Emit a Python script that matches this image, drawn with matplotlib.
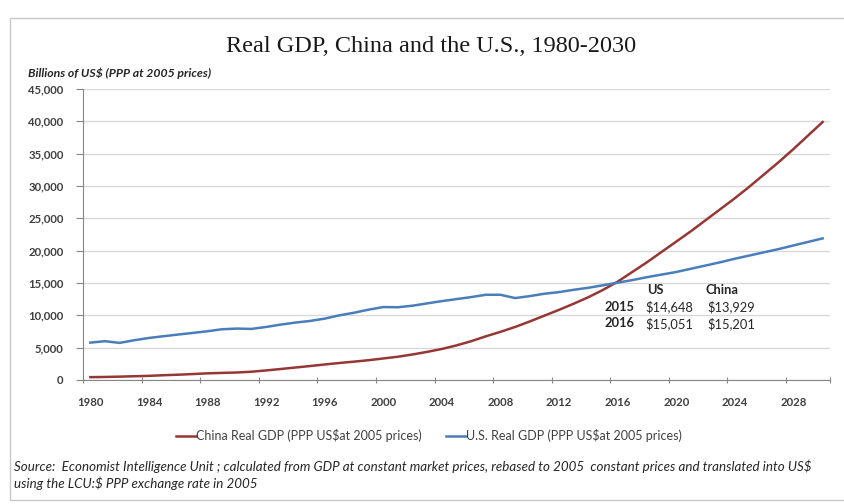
import matplotlib
matplotlib.use("Agg")
import matplotlib.pyplot as plt
from matplotlib.patches import Rectangle
from matplotlib.ticker import FuncFormatter, FixedLocator


# 1. Datos (miles de millones de US$, PPP a precios de 2005)
years = list(range(1980, 2031))

china_gdp = [
    440, 470, 520, 580, 640, 740, 820, 920, 1030, 1100,
    1160, 1280, 1480, 1700, 1930, 2160, 2400, 2630, 2840, 3060,
    3330, 3600, 3950, 4350, 4800, 5350, 6000, 6750, 7450, 8200,
    9050, 9950, 10850, 11800, 12800, 13929, 15201, 16700, 18200, 19800,
    21400, 23000, 24700, 26400, 28100, 29900, 31800, 33700, 35700, 37800,
    39900,
]

us_gdp = [
    5780, 6000, 5740, 6150, 6500, 6770, 7030, 7280, 7540, 7850,
    7950, 7900, 8200, 8570, 8880, 9130, 9490, 10000, 10400, 10880,
    11280, 11250, 11490, 11850, 12200, 12510, 12820, 13180, 13180, 12670,
    12970, 13340, 13590, 13950, 14260, 14648, 15051, 15450, 15900, 16300,
    16700, 17200, 17700, 18200, 18750, 19250, 19750, 20250, 20800, 21350,
    21900,
]

table_years = ["2015", "2016"]
table_us = ["$14,648", "$15,051"]
table_china = ["$13,929", "$15,201"]

label_china = "China Real GDP (PPP US$at 2005 prices)"
label_us = "U.S. Real GDP (PPP US$at 2005 prices)"

RED = "#953735"
BLUE = "#4A7EBB"
NARROW = ["Lato", "DejaVu Sans"]

# 2. Figura
fig = plt.figure(figsize=(8.44, 5.04), dpi=100)
ax = fig.add_axes([83 / 844, 1 - 380 / 504, (830 - 83) / 844, (380 - 89) / 504])

# marco exterior
fig.patches.append(Rectangle((10 / 844, 4 / 504), 1.0, 482 / 504, transform=fig.transFigure,
                             fill=False, edgecolor="#c8c8c8", linewidth=1.0))

ax.plot(years, china_gdp, color=RED, lw=1.8, label=label_china)
ax.plot(years, us_gdp, color=BLUE, lw=1.8, label=label_us)

ax.set_xlim(years[0] - 0.5, years[-1] + 0.5)
ax.set_ylim(0, 45000)
ax.set_yticks(range(0, 45001, 5000))
ax.yaxis.set_major_formatter(FuncFormatter(lambda v, p: f"{int(v):,}"))
ax.grid(axis="y", color="#d9d9d9", lw=1.0)
ax.set_axisbelow(True)

# eje de categorías: marcas entre categorías, etiquetas cada 4 años
ax.xaxis.set_major_locator(FixedLocator([y - 0.5 for y in years[::4]] + [years[-1] + 0.5]))
ax.xaxis.set_major_formatter(FuncFormatter(lambda v, p: ""))
ax.xaxis.set_minor_locator(FixedLocator(years[::4]))
ax.xaxis.set_minor_formatter(FuncFormatter(lambda v, p: f"{int(round(v))}"))
ax.tick_params(axis="x", which="major", length=4, color="#868686", direction="inout")
ax.tick_params(axis="x", which="minor", length=0, pad=12)
ax.tick_params(axis="y", length=5, color="#868686", direction="out", pad=9)

for lab in ax.get_xticklabels(minor=True) + ax.get_yticklabels():
    lab.set_family(NARROW)
    lab.set_fontsize(8.2)
    lab.set_fontweight("bold")
    lab.set_color("#404040")

for s in ["top", "right"]:
    ax.spines[s].set_visible(False)
for s in ["left", "bottom"]:
    ax.spines[s].set_color("#868686")

# tabla de valores 2015/2016
fs = 9.3
ax.text(2018.0, 13900, "US", family=NARROW, fontsize=fs, fontweight="bold",
        color="#262626", va="center")
ax.text(2022.0, 13900, "China", family=NARROW, fontsize=fs, fontweight="bold",
        color="#262626", va="center")
for i, yr in enumerate(table_years):
    yv = 11330 - i * 2570
    ax.text(2015.1, yv, yr, family=NARROW, fontsize=fs, fontweight="bold",
            color="#262626", va="center")
    ax.text(2017.9, yv, table_us[i], family=NARROW, fontsize=fs, color="#262626", va="center")
    ax.text(2022.1, yv, table_china[i], family=NARROW, fontsize=fs, color="#262626", va="center")

# títulos
fig.text(431 / 844, 1 - 47 / 504, "Real GDP, China and the U.S., 1980-2030",
         family=["Liberation Serif", "DejaVu Serif"], fontsize=17.5, ha="center", va="center",
         color="#1a1a1a")
fig.text(28 / 844, 1 - 73 / 504, "Billions of US$ (PPP at 2005 prices)",
         family=NARROW, fontsize=8.8, style="italic", fontweight="bold", ha="left", va="center",
         color="#262626")

leg = fig.legend(loc="center", bbox_to_anchor=(429 / 844, 1 - 436 / 504), ncol=2,
                 frameon=False, handlelength=1.6, handletextpad=0.0, columnspacing=2.0,
                 prop={"family": NARROW, "size": 9})
for t in leg.get_texts():
    t.set_color("#404040")

fig.text(14 / 844, 1 - 466 / 504,
         "Source:  Economist Intelligence Unit ; calculated from GDP at constant market prices, "
         "rebased to 2005  constant prices and translated into US$",
         family=NARROW, fontsize=9.6, style="italic", ha="left", va="center", color="#262626")
fig.text(14 / 844, 1 - 483 / 504, "using the LCU:$ PPP exchange rate in 2005",
         family=NARROW, fontsize=9.6, style="italic", ha="left", va="center", color="#262626")

fig.savefig("out.png", dpi=100)
